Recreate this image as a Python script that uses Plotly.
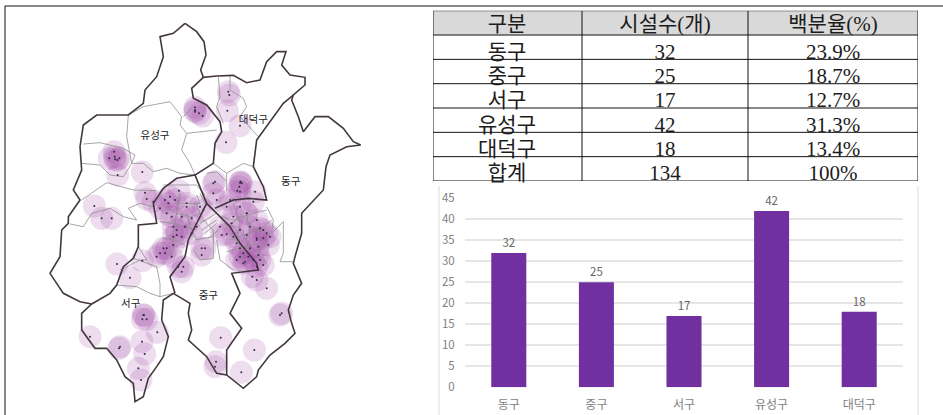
import plotly.graph_objects as go

FONT = "Noto Sans CJK KR, sans-serif"
SERIF = "Liberation Serif, Noto Sans CJK KR, serif"
W, H = 943, 415

# ------------------------------------------------------------
# DATA
# ------------------------------------------------------------

districts = ["동구", "중구", "서구", "유성구", "대덕구"]
facilities = [32, 25, 17, 42, 18]

table_header = ["구분", "시설수(개)", "백분율(%)"]
table_names = ["동구", "중구", "서구", "유성구", "대덕구", "합계"]
table_counts = ["32", "25", "17", "42", "18", "134"]
table_shares = ["23.9%", "18.7%", "12.7%", "31.3%", "13.4%", "100%"]

map_labels = ["대덕구", "유성구", "동구", "서구", "중구"]
map_label_x = [760, 465, 872, 392, 625]
map_label_y = [360, 410, 548, 912, 890]

# city outline
outer_x = [555, 590, 612, 618, 602, 610, 650, 700, 740, 780, 800, 830, 858, 845, 870, 915, 915, 880, 875, 895, 910,
           945, 985, 1030, 1060, 1082, 1040, 990, 978, 970, 905, 905, 885, 880, 905, 880, 865, 875, 885, 855, 810,
           775, 770, 730, 680, 650, 620, 565, 575, 565, 570, 520, 490, 485, 505, 490, 470, 445, 430, 405, 400, 375,
           350, 320, 285, 245, 245, 275, 240, 190, 150, 180, 185, 205, 205, 240, 220, 245, 240, 250, 290, 350, 385,
           430, 435, 470, 490, 480, 520, 555]
outer_y = [70, 95, 125, 165, 210, 232, 228, 226, 248, 240, 185, 155, 155, 195, 225, 232, 255, 285, 300, 350, 395,
           350, 350, 385, 425, 435, 440, 465, 500, 570, 640, 700, 770, 790, 850, 885, 930, 970, 1000, 1030, 1065,
           1110, 1130, 1165, 1125, 1120, 1070, 1020, 990, 940, 910, 880, 900, 960, 1010, 1070, 1100, 1135, 1190,
           1205, 1150, 1130, 1080, 1045, 1045, 990, 940, 912, 905, 880, 820, 770, 690, 670, 650, 600, 570, 510, 440,
           375, 345, 345, 345, 310, 270, 230, 170, 110, 100, 70]

# district borders, None splits the pieces
border_x = [610, 575, 580, 620, 660, 665, 645, 640, 585, 600, 620, None,
            585, 530, 490, 460, 470, 415, 415, 400, 370, 350, 330, 275, None,
            620, 600, 565, 555, 510, 525, None,
            620, 650, 690, 720, 770, 775, 695, 720, 690, 725, 680, 680, None,
            645, 700, 745, 800, 790, 760, 770, 850, 880]
border_y = [232, 265, 295, 315, 365, 395, 430, 490, 525, 560, 610, None,
            525, 535, 565, 610, 670, 675, 740, 775, 800, 855, 880, 912, None,
            610, 650, 720, 770, 830, 880, None,
            610, 640, 680, 730, 790, 810, 820, 880, 940, 985, 1050, 1125, None,
            625, 600, 595, 600, 560, 500, 420, 310, 285]

# neighbourhood borders
dong_x = [250, 300, 370, 405, 395, 430, 460, 500, 540, 585, None, 245, 300, 330, 370, 395, None,
          245, 320, 400, 470, None, 210, 250, 275, 330, 370, 410, 385, 420, 460, None,
          385, 380, 395, None, 385, 430, 510, 545, 540, 560, 545, 570, 585, None, 560, 600, 650, None, 550, 580, None,
          655, 660, 650, 670, None, 690, 690, 730, 740, 720, 775, None, 640, 680, 730, 760, None, 680, 680, None,
          620, 650, 680, None, 800, 820, 815, 850, 850, 840, 880, None,
          600, 650, None, 585, 640, 640, 600, 580, None, 650, 660, 700, None,
          400, 470, 480, 480, 520, None, 350, 410, 450, 480, None, 360, 420, 440, 415, None,
          490, 540, 590, 615, None, 490, 530, 575, 600, None, 480, 520, 560, 590, None, 490, 525, 555, None,
          540, 530, 520, 515, None, 560, 575, 590, None, 590, 600, 590, 600, None, 520, 600, None, 600, 615, None,
          610, 640, 640, None, 605, 650, None, 615, 650, None, 625, 655, None,
          660, 700, 760, 800, None, 690, 745, 790, 815, None, 680, 730, 770, None, 720, 760, 810, None,
          700, 720, 710, None, 740, 750, 745, 770, None, 770, 790, 775, 800, None, 670, 720, None, 720, 740, 730]
dong_y = [432, 428, 445, 465, 490, 490, 515, 505, 520, 525, None, 490, 495, 525, 530, 490, None,
          600, 548, 570, 572, None, 672, 680, 640, 625, 650, 660, 625, 610, 620, None,
          345, 410, 490, None, 345, 320, 305, 350, 375, 400, 450, 490, 525, None, 400, 395, 390, None, 350, 320, None,
          232, 290, 320, 370, None, 226, 270, 295, 320, 350, 410, None, 490, 520, 490, 500, None, 520, 570, None,
          520, 515, 545, None, 620, 660, 700, 665, 760, 785, 785, None,
          670, 640, None, 720, 710, 775, 780, 750, None, 720, 780, 810, None,
          775, 800, 850, 890, 880, None, 855, 860, 880, 890, None, 810, 780, 780, 740, None,
          555, 555, 555, 585, None, 620, 640, 650, 640, None, 665, 670, 680, 690, None, 715, 720, 735, None,
          580, 640, 700, 770, None, 640, 690, 720, None, 585, 610, 610, 640, None, 610, 610, None, 580, 610, None,
          660, 690, 720, None, 690, 660, None, 700, 670, None, 715, 690, None,
          650, 660, 640, 630, None, 720, 700, 680, 660, None, 755, 740, 730, None, 640, 680, 705, None,
          610, 670, 730, None, 640, 700, 760, 790, None, 690, 720, 770, 790, None, 690, 650, None, 780, 740, 690]

# facility locations, 134 of them
site_x = [685, 688, 682, 585, 585, 608, 720, 678, 342, 328, 358, 345, 353, 427, 435, 440, 460, 283, 305, 335,
          537, 505, 510, 500, 545, 575, 520, 530, 545, 530, 520, 500, 495, 515, 535, 550, 545, 610, 590,
          605, 615, 605, 640, 645, 720, 712, 720, 765, 640, 650, 560, 760, 720, 700, 740, 695, 665, 680,
          720, 740, 780, 790, 805, 770, 775, 710, 720, 730, 750, 775, 735, 790, 757, 770, 800, 840, 845,
          351, 427, 390, 430, 427, 440, 472, 426, 434, 415, 423, 270, 357, 360, 662, 648, 645, 763, 724,
          344, 352, 722, 725, 718, 585, 597, 432,
          480, 495, 470, 490, 575, 600, 555, 525, 515, 520, 480, 560,
          680, 660, 690, 770, 800, 810, 790, 710, 730, 760, 780, 740, 750, 700, 720, 745, 770, 770]
site_y = [275, 285, 332, 322, 335, 348, 377, 427, 455, 475, 475, 478, 525, 516, 578, 597, 605, 618, 655, 655,
          572, 610, 590, 640, 650, 655, 680, 690, 710, 705, 735, 745, 760, 770, 800, 800, 815, 630, 680,
          745, 745, 765, 550, 545, 548, 572, 575, 575, 580, 600, 610, 605, 620, 650, 640, 670, 705, 703,
          690, 705, 685, 715, 735, 715, 740, 730, 745, 760, 745, 765, 785, 795, 830, 840, 865, 945, 940,
          792, 782, 833, 945, 958, 958, 997, 1025, 1062, 1105, 1140, 1010, 1045, 1040, 1013, 1085, 1100, 1050, 1117,
          470, 480, 545, 550, 560, 330, 340, 945,
          625, 600, 770, 745, 700, 620, 680, 600, 650, 710, 760, 620,
          620, 680, 600, 660, 700, 710, 690, 780, 790, 780, 780, 640, 680, 710, 770, 770, 720, 800]

# ------------------------------------------------------------
# FIGURE
# ------------------------------------------------------------

fig = go.Figure()

# map, all in the 3x reading units
fig.add_trace(go.Scatter(x=site_x, y=site_y, mode="markers", xaxis="x2", yaxis="y2",
                         marker=dict(size=23, color="rgba(160,75,165,0.19)", line=dict(width=0))))
fig.add_trace(go.Scatter(x=dong_x, y=dong_y, mode="lines", xaxis="x2", yaxis="y2",
                         line=dict(color="#8f8f8f", width=0.8)))
fig.add_trace(go.Scatter(x=border_x, y=border_y, mode="lines", xaxis="x2", yaxis="y2",
                         line=dict(color="#43343f", width=1.6)))
fig.add_trace(go.Scatter(x=outer_x, y=outer_y, mode="lines", xaxis="x2", yaxis="y2",
                         line=dict(color="#43383c", width=1.6)))
fig.add_trace(go.Scatter(x=site_x, y=site_y, mode="markers", xaxis="x2", yaxis="y2",
                         marker=dict(size=2, color="#3a2a45")))
fig.add_trace(go.Scatter(x=map_label_x, y=map_label_y, mode="text", text=map_labels, xaxis="x2", yaxis="y2",
                         textfont=dict(family=FONT, size=10.5, color="#222222")))

# bar chart
fig.add_trace(go.Bar(x=districts, y=facilities, width=0.4, marker=dict(color="#7030A0", line=dict(width=0)),
                     text=facilities, textposition="outside", cliponaxis=False,
                     textfont=dict(family=FONT, size=11.5, color="#666666")))

# table text, sits low in its rows like the scan
n_rows = len(table_names) + 1
col_centers = [74, 232, 400]
row_offsets = [0.6] + [0.76] * len(table_names)
for cx, head, cells in zip(col_centers, table_header, [table_names, table_counts, table_shares]):
    fig.add_trace(go.Scatter(x=[cx] * n_rows, y=[i + o for i, o in enumerate(row_offsets)], mode="text",
                             text=[head] + cells, xaxis="x3", yaxis="y3", cliponaxis=False,
                             textfont=dict(family=SERIF, size=21, color="#1c1c1c")))

hidden = dict(visible=False, fixedrange=True, automargin=False)


def px(x):
    return x / W


def py(y):
    return 1 - y / H


shapes = [
    # header band
    dict(type="rect", xref="x3", yref="y3", x0=0, x1=485, y0=0, y1=1, fillcolor="#d9d9d9",
         line=dict(width=0), layer="below"),
    # page frame
    dict(type="line", xref="paper", yref="paper", x0=px(5), x1=1, y0=py(6), y1=py(6),
         line=dict(color="#111111", width=1)),
    dict(type="line", xref="paper", yref="paper", x0=px(5), x1=px(5), y0=py(6), y1=0,
         line=dict(color="#111111", width=1)),
    # faint edge of the pasted chart
    dict(type="line", xref="paper", yref="paper", x0=px(439), x1=px(439), y0=py(186), y1=0,
         line=dict(color="#dddddd", width=1)),
    dict(type="line", xref="paper", yref="paper", x0=px(918), x1=px(918), y0=py(186), y1=0,
         line=dict(color="#dddddd", width=1)),
]
for i in range(n_rows + 1):
    shapes.append(dict(type="line", xref="x3", yref="y3", x0=0, x1=485, y0=i, y1=i,
                       line=dict(color="#111111", width=1)))
for c in [0, 149, 315, 485]:
    shapes.append(dict(type="line", xref="x3", yref="y3", x0=c, x1=c, y0=0, y1=n_rows,
                       line=dict(color="#111111", width=1)))

fig.update_layout(
    width=W,
    height=H,
    margin=dict(l=0, r=0, t=0, b=0),
    paper_bgcolor="white",
    plot_bgcolor="rgba(0,0,0,0)",
    showlegend=False,
    shapes=shapes,
    xaxis=dict(domain=[px(465), px(903)], fixedrange=True, showgrid=False, zeroline=False,
               ticks="outside", ticklen=6, tickcolor="rgba(0,0,0,0)",
               showline=False, automargin=False, tickfont=dict(family=FONT, size=12, color="#7f7f7f")),
    yaxis=dict(domain=[py(387.3), py(198.3)], range=[0, 45], dtick=5, fixedrange=True, zeroline=False,
               gridcolor="#e6e6e6", gridwidth=1.5, ticks="outside", ticklen=7, tickcolor="rgba(0,0,0,0)",
               showline=False, automargin=False, tickfont=dict(family=FONT, size=11.5, color="#7f7f7f")),
    xaxis2=dict(domain=[0, px(430)], range=[0, 1290], anchor="y2", **hidden),
    yaxis2=dict(domain=[0, 1], range=[1245, 0], anchor="x2", **hidden),
    xaxis3=dict(domain=[px(433), px(918)], range=[0, 485], anchor="y3", **hidden),
    yaxis3=dict(domain=[py(181), py(10.7)], range=[n_rows, 0], anchor="x3", **hidden),
)

fig.write_html("out.html", config={"displayModeBar": False},
               post_script="document.body.style.margin='0';document.body.style.overflow='hidden';")
